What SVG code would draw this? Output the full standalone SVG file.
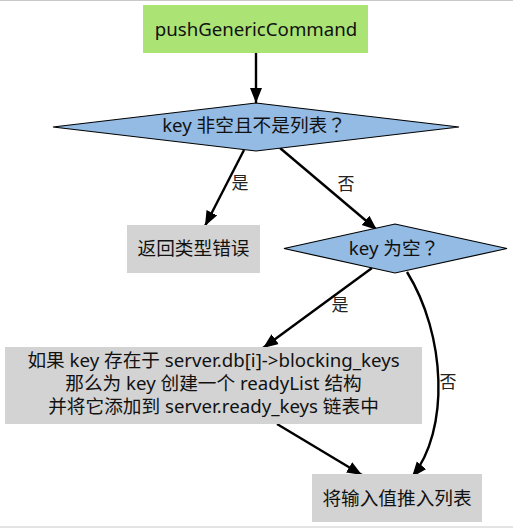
<svg xmlns="http://www.w3.org/2000/svg" width="513" height="528" viewBox="0 0 513 528">
<style>
text{font-family:"Noto Sans","Noto Sans CJK SC",sans-serif;font-size:18.67px;fill:#111;text-anchor:middle}
.lbl{font-size:17px;fill:#222}
.q{font-family:"Noto Sans CJK JP",sans-serif}
.edge{fill:none;stroke:#000;stroke-width:2.4}
.dec{fill:#93bbe3;stroke:#000;stroke-width:1.2}
.box{fill:#d3d3d3}
</style>
<defs>
<marker id="ah" markerUnits="userSpaceOnUse" markerWidth="16" markerHeight="14" refX="15" refY="6" orient="auto">
<path d="M0,0 L15,6 L0,12 Z" fill="#000"/>
</marker>
</defs>
<rect width="513" height="528" fill="#fff"/>
<line x1="0" y1="0.5" x2="513" y2="0.5" stroke="#c8c8c8"/>
<line x1="0" y1="527" x2="513" y2="527" stroke="#c8c8c8"/>
<g id="connectors">
<line class="edge" x1="256" y1="53" x2="256" y2="103" marker-end="url(#ah)"/>
<line class="edge" x1="244" y1="150" x2="205" y2="226" marker-end="url(#ah)"/>
<line class="edge" x1="280" y1="148" x2="377" y2="230" marker-end="url(#ah)"/>
<line class="edge" x1="372" y1="268" x2="263" y2="348" marker-end="url(#ah)"/>
<path class="edge" d="M407,272 C446,335 450,430 412,477" marker-end="url(#ah)"/>
<line class="edge" x1="277" y1="424" x2="362" y2="475" marker-end="url(#ah)"/>
<text class="lbl" x="240" y="189">是</text>
<text class="lbl" x="346" y="190">否</text>
<text class="lbl" x="340" y="311">是</text>
<text class="lbl" x="448" y="388">否</text>
</g>
<g id="start">
<rect x="143" y="5" width="225" height="48" fill="#abe374"/>
<text x="256" y="35.5">pushGenericCommand</text>
</g>
<g id="check1">
<polygon class="dec" points="256,103 459,127 256,151 53,127"/>
<text x="254" y="132">key 非空且不是列表<tspan class="q">？</tspan></text>
</g>
<g id="typeError">
<rect class="box" x="127" y="225" width="133" height="48"/>
<text x="193.5" y="254.5">返回类型错误</text>
</g>
<g id="check2">
<polygon class="dec" points="395,224 507,248.5 395,273 284,248.5"/>
<text x="394" y="254.5">key 为空<tspan class="q">？</tspan></text>
</g>
<g id="readyList">
<rect class="box" x="5" y="347" width="417" height="77"/>
<text x="213.5" y="366.5">如果 key 存在于 server.db[i]-&gt;blocking_keys</text>
<text x="213.5" y="389.5">那么为 key 创建一个 readyList 结构</text>
<text x="213.5" y="412.5">并将它添加到 server.ready_keys 链表中</text>
</g>
<g id="push">
<rect class="box" x="312" y="474" width="170" height="48"/>
<text x="397" y="504.5">将输入值推入列表</text>
</g>
</svg>
